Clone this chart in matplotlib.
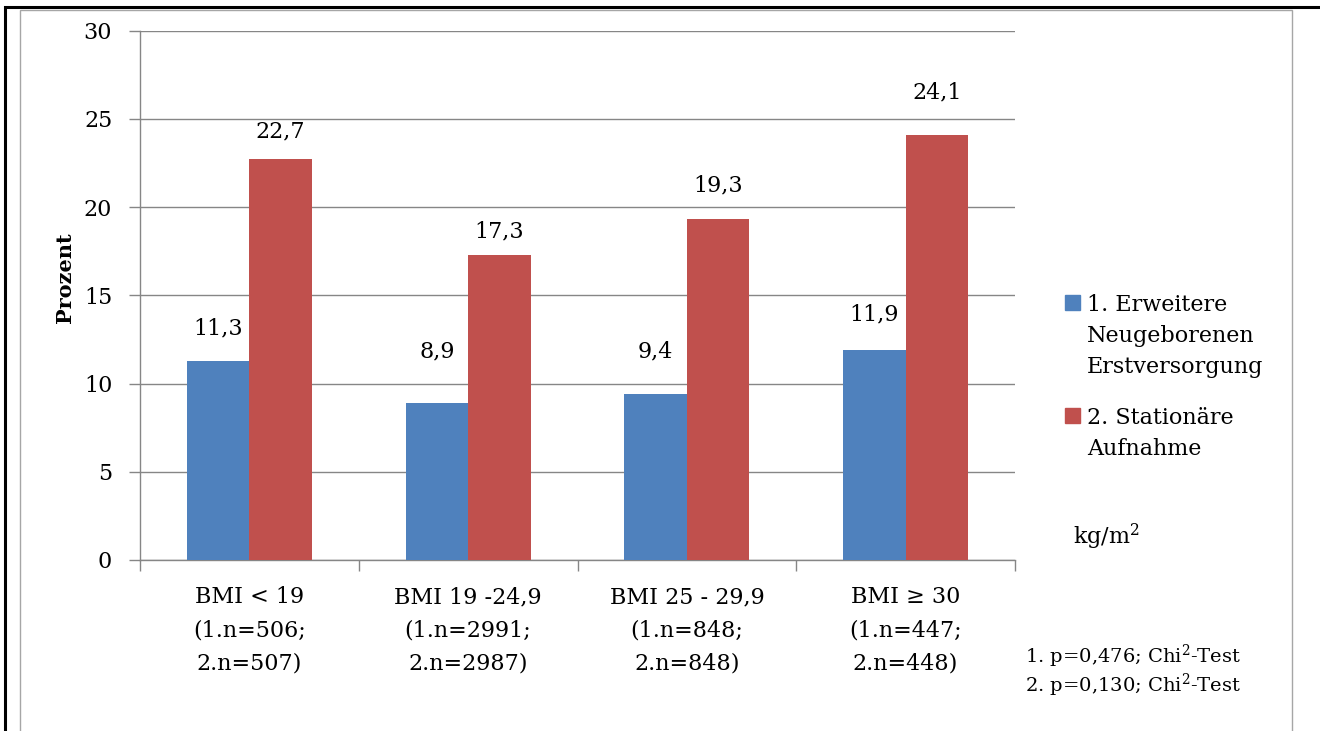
import numpy as np
import matplotlib
matplotlib.use('Agg')
import matplotlib.pyplot as plt
from matplotlib.patches import Rectangle

plt.rcParams['font.family'] = ['DejaVu Serif']
plt.rcParams['mathtext.fontset'] = 'dejavuserif'

# %% data
categories = ['BMI < 19\n(1.n=506;\n2.n=507)',
              'BMI 19 -24,9\n(1.n=2991;\n2.n=2987)',
              'BMI 25 - 29,9\n(1.n=848;\n2.n=848)',
              'BMI ≥ 30\n(1.n=447;\n2.n=448)']
erstversorgung = [11.3, 8.9, 9.4, 11.9]
stationaer = [22.7, 17.3, 19.3, 24.1]
# where the value labels sit (data units, label centre)
label_y_1 = [13.1, 11.8, 11.8, 13.9]
label_y_2 = [24.3, 18.6, 21.2, 26.5]
series_names = ['1. Erweitere\nNeugeborenen\nErstversorgung', '2. Stationäre\nAufnahme']
colors = ['#4F81BD', '#C0504D']
footnote = ['1. p=0,476; Chi$^2$-Test', '2. p=0,130; Chi$^2$-Test']

W, H = 1320, 731
fig = plt.figure(figsize=(W / 100, H / 100), dpi=100)
ax = fig.add_axes([140 / W, 1 - 560 / H, (1015 - 140) / W, (560 - 30.5) / H])

x = np.arange(len(categories))
bw = 1 / 3.5
ax.bar(x - bw / 2, erstversorgung, width=bw, color=colors[0], zorder=3)
ax.bar(x + bw / 2, stationaer, width=bw, color=colors[1], zorder=3)

for i in range(len(x)):
    ax.text(x[i] - bw / 2, label_y_1[i], f'{erstversorgung[i]:.1f}'.replace('.', ','),
            ha='center', va='center', fontsize=16)
    ax.text(x[i] + bw / 2, label_y_2[i], f'{stationaer[i]:.1f}'.replace('.', ','),
            ha='center', va='center', fontsize=16)

ax.set_xlim(-0.5, len(categories) - 0.5)
ax.set_ylim(0, 30)
ax.set_yticks(np.arange(0, 31, 5))
ax.yaxis.grid(True, color='#868686', linewidth=1)
ax.set_axisbelow(True)
ax.tick_params(axis='y', length=8, width=1, color='#868686', pad=12, labelsize=16)

# category boundaries as ticks, names in between
ax.set_xticks(np.arange(-0.5, len(categories), 1))
ax.set_xticklabels([])
ax.set_xticks(x, minor=True)
ax.set_xticklabels(categories, minor=True, fontsize=16, linespacing=1.64)
ax.tick_params(axis='x', which='major', length=8, width=1, color='#868686')
ax.tick_params(axis='x', which='minor', length=0, pad=19)

for s in ['top', 'right']:
    ax.spines[s].set_visible(False)
for s in ['left', 'bottom']:
    ax.spines[s].set_color('#868686')
    ax.spines[s].set_linewidth(1)

fig.text(65 / W, 1 - 278 / H, 'Prozent', rotation=90, ha='center', va='center',
         fontsize=15, fontweight='bold')

# legend drawn by hand, square next to the first line of each entry
legend_base = [311, 424]
for name, col, base in zip(series_names, colors, legend_base):
    fig.patches.append(Rectangle((1065 / W, 1 - (base - 1) / H), 15 / W, 15 / H,
                                 transform=fig.transFigure, color=col))
    for k, line in enumerate(name.split('\n')):
        fig.text(1087 / W, 1 - (base + 31 * k) / H, line, ha='left', va='baseline',
                 fontsize=16)

fig.text(1073 / W, 1 - 544 / H, 'kg/m$^2$', ha='left', va='baseline', fontsize=16)
for k, line in enumerate(footnote):
    fig.text(1025 / W, 1 - (663 + 28.5 * k) / H, line, ha='left', va='baseline', fontsize=14)

# frames around the chart
fig.patches.append(Rectangle((20 / W, -0.1), (1292 - 20) / W, 1.1 - 10 / H,
                             transform=fig.transFigure, fill=False,
                             edgecolor='#A6A6A6', linewidth=1))
fig.patches.append(Rectangle((5 / W, -0.1), 1.1, 1.1 - 7 / H,
                             transform=fig.transFigure, fill=False,
                             edgecolor='black', linewidth=2.2))

fig.savefig('out.png', dpi=100)
